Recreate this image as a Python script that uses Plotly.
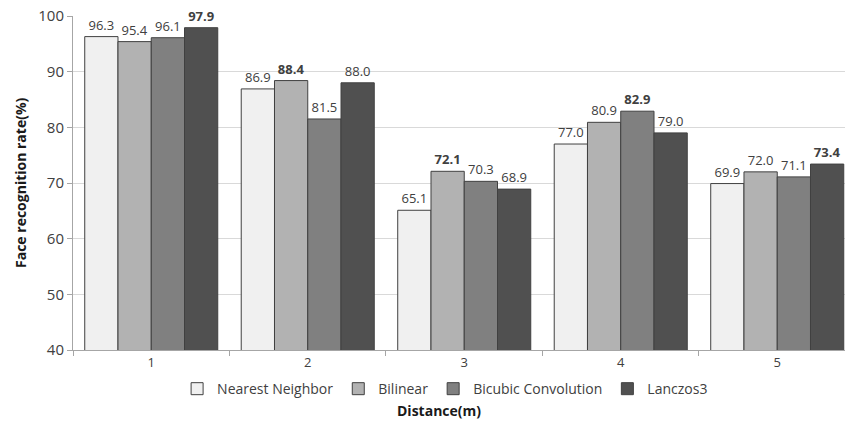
import plotly.graph_objects as go

categories = ["1", "2", "3", "4", "5"]
series_names = ["Nearest Neighbor", "Bilinear", "Bicubic Convolution", "Lanczos3"]
nearest = [96.3, 86.9, 65.1, 77.0, 69.9]
bilinear = [95.4, 88.4, 72.1, 80.9, 72.0]
bicubic = [96.1, 81.5, 70.3, 82.9, 71.1]
lanczos = [97.9, 88.0, 68.9, 79.0, 73.4]
y_ticks = [40, 50, 60, 70, 80, 90, 100]

series_values = [nearest, bilinear, bicubic, lanczos]
colors = ["#F0F0F0", "#B2B2B2", "#808080", "#505050"]
FONT = "Open Sans"

# maximum per group -> bold label
group_max = [max(vals) for vals in zip(*series_values)]

fig = go.Figure()
for name, vals, col in zip(series_names, series_values, colors):
    labels = [
        f"<b>{v:.1f}</b>" if v == m else f"{v:.1f}"
        for v, m in zip(vals, group_max)
    ]
    fig.add_trace(go.Bar(
        name=name,
        x=categories,
        y=vals,
        marker=dict(color=col, line=dict(color="#404040", width=1)),
        text=labels,
        textposition="outside",
        textfont=dict(family=FONT, size=13, color="#404040"),
        cliponaxis=False,
    ))

fig.update_layout(
    width=845,
    height=421,
    margin=dict(l=73, r=0, t=16, b=71),
    paper_bgcolor="white",
    plot_bgcolor="white",
    barmode="group",
    bargap=0.15,
    bargroupgap=0,
    font=dict(family=FONT, size=14, color="#404040"),
    showlegend=True,
    legend=dict(
        orientation="h",
        x=0.482,
        xanchor="center",
        y=-0.117,
        yanchor="middle",
        font=dict(family=FONT, size=14, color="#404040"),
        itemwidth=30,
        tracegroupgap=0,
        bgcolor="rgba(0,0,0,0)",
    ),
)

fig.update_xaxes(
    type="category",
    range=[-0.5, 4.433],
    showgrid=False,
    showline=True,
    linecolor="#A6A6A6",
    linewidth=1,
    ticks="outside",
    tickson="boundaries",
    ticklen=5,
    tickcolor="#A6A6A6",
    tickfont=dict(family=FONT, size=13, color="#404040"),
)

fig.update_yaxes(
    range=[40, 100],
    tickvals=y_ticks,
    showgrid=True,
    gridcolor="#D9D9D9",
    gridwidth=1,
    showline=True,
    linecolor="#A6A6A6",
    linewidth=1,
    ticks="outside",
    ticklen=5,
    tickcolor="#A6A6A6",
    tickfont=dict(family=FONT, size=15, color="#404040"),
    zeroline=False,
)

fig.add_annotation(
    text="<b>Face recognition rate(%)</b>",
    xref="paper", yref="paper",
    x=-0.0687, y=0.5,
    xanchor="center", yanchor="middle",
    textangle=-90,
    showarrow=False,
    font=dict(family=FONT, size=14, color="#1a1a1a"),
)
fig.add_annotation(
    text="<b>Distance(m)</b>",
    xref="paper", yref="paper",
    x=0.474, y=-0.18,
    xanchor="center", yanchor="middle",
    showarrow=False,
    font=dict(family=FONT, size=14, color="#1a1a1a"),
)

fig.write_html(
    "out.html",
    config={"displayModeBar": False},
    post_script="document.body.style.margin='0';document.body.style.overflow='hidden';",
)
